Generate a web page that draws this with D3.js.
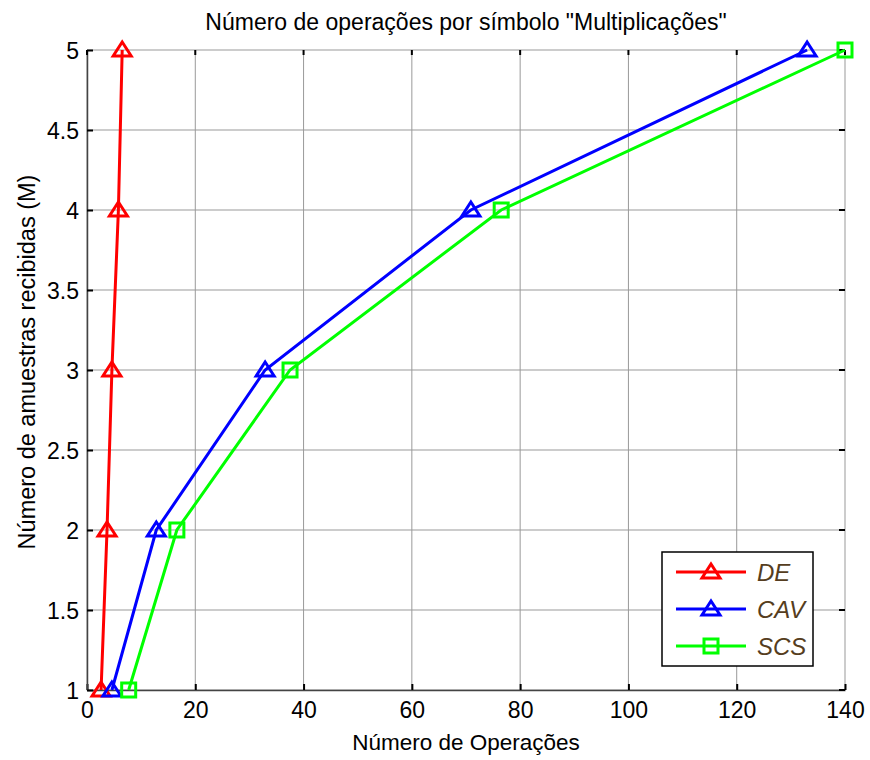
<!DOCTYPE html>
<html>
<head>
<meta charset="utf-8">
<script src="https://cdn.jsdelivr.net/npm/d3@7"></script>
<style>
  body { margin: 0; background: #fff; }
  text { font-family: "Liberation Sans", Arial, sans-serif; }
</style>
</head>
<body>
<div id="chart"></div>
<script>

/* Data */
/* ---- */

var yValues = [1, 2, 3, 4, 5];
var deValues = [2.6, 3.7, 4.6, 5.8, 6.5];
var cavValues = [4.6, 12.8, 32.9, 70.9, 133.0];
var scsValues = [7.7, 16.6, 37.5, 76.5, 140.0];

var seriesNames = ['DE', 'CAV', 'SCS'];
var xTicks = [0, 20, 40, 60, 80, 100, 120, 140];
var yTicks = [1, 1.5, 2, 2.5, 3, 3.5, 4, 4.5, 5];

/* Setup */
/* ----- */

var width = 870, height = 760;
var margin = { top: 50, right: 25, bottom: 70, left: 87 };
var w = 758, h = 640;

var svg = d3.select('#chart').append('svg')
    .attr('width', width)
    .attr('height', height);

var g = svg.append('g').attr('transform', 'translate(' + margin.left + ',' + margin.top + ')');

var x = d3.scaleLinear().domain([0, 140]).range([0, w]);
var y = d3.scaleLinear().domain([1, 5]).range([h, 0]);

// grid
g.append('g').selectAll('line')
  .data(xTicks)
  .enter().append('line')
    .attr('x1', function(d) { return x(d); }).attr('x2', function(d) { return x(d); })
    .attr('y1', 0).attr('y2', h)
    .attr('stroke', '#999').attr('stroke-width', 1);

g.append('g').selectAll('line')
  .data(yTicks)
  .enter().append('line')
    .attr('x1', 0).attr('x2', w)
    .attr('y1', function(d) { return y(d); }).attr('y2', function(d) { return y(d); })
    .attr('stroke', '#999').attr('stroke-width', 1);

// axes
var xAxis = g.append('g').attr('transform', 'translate(0,' + h + ')')
    .call(d3.axisBottom(x).tickValues(xTicks).tickSizeInner(-6).tickSizeOuter(0).tickPadding(12).tickFormat(d3.format('d')));
var yAxis = g.append('g')
    .call(d3.axisLeft(y).tickValues(yTicks).tickSizeInner(-6).tickSizeOuter(0).tickPadding(8).tickFormat(function(d) { return d; }));

// top and right ticks
g.append('g').selectAll('line')
  .data(xTicks)
  .enter().append('line')
    .attr('x1', function(d) { return x(d); }).attr('x2', function(d) { return x(d); })
    .attr('y1', 0).attr('y2', 5).attr('stroke', '#000').attr('stroke-width', 2);
g.append('g').selectAll('line')
  .data(yTicks)
  .enter().append('line')
    .attr('x1', w - 6).attr('x2', w)
    .attr('y1', function(d) { return y(d); }).attr('y2', function(d) { return y(d); })
    .attr('stroke', '#000').attr('stroke-width', 2);

[xAxis, yAxis].forEach(function(a) {
  a.attr('font-size', null).attr('font-family', null);
  a.select('.domain').attr('stroke', '#444').attr('stroke-width', 1.5);
  a.selectAll('.tick line').attr('stroke', '#000').attr('stroke-width', 2);
  a.selectAll('.tick text').style('font-size', '23px').attr('fill', '#000');
});
yAxis.selectAll('.tick text').attr('dy', '0.36em');

/* Series */
/* ------ */

var series = [
  { name: seriesNames[0], values: deValues, colour: '#ff0000', marker: 'tri' },
  { name: seriesNames[1], values: cavValues, colour: '#0000ff', marker: 'tri' },
  { name: seriesNames[2], values: scsValues, colour: '#00ff00', marker: 'sq' }
];

var line = d3.line()
    .x(function(d) { return x(d[0]); })
    .y(function(d) { return y(d[1]); });

function markerPath(type) {
  if (type === 'tri') return 'M0,-8L9,6L-9,6Z';
  return 'M-7,-7L7,-7L7,7L-7,7Z';
}

series.forEach(function(s) {
  var pts = s.values.map(function(v, i) { return [v, yValues[i]]; });
  var sg = g.append('g');
  sg.append('path')
    .datum(pts)
    .attr('d', line)
    .attr('fill', 'none')
    .attr('stroke', s.colour)
    .attr('stroke-width', 3);
  sg.selectAll('path.m')
    .data(pts)
    .enter().append('path')
      .attr('class', 'm')
      .attr('d', markerPath(s.marker))
      .attr('transform', function(d) { return 'translate(' + x(d[0]) + ',' + y(d[1]) + ')'; })
      .attr('fill', 'none')
      .attr('stroke', s.colour)
      .attr('stroke-width', 3);
});

/* Legend */
/* ------ */

var lg = svg.append('g').attr('transform', 'translate(662,552)');
lg.append('rect')
  .attr('width', 151).attr('height', 114)
  .attr('fill', '#fff').attr('stroke', '#000').attr('stroke-width', 1.5);

series.forEach(function(s, i) {
  var ly = 20 + i * 37;
  lg.append('line')
    .attr('x1', 14).attr('x2', 84).attr('y1', ly).attr('y2', ly)
    .attr('stroke', s.colour).attr('stroke-width', 3);
  lg.append('path')
    .attr('d', markerPath(s.marker))
    .attr('transform', 'translate(49,' + ly + ')')
    .attr('fill', 'none').attr('stroke', s.colour).attr('stroke-width', 3);
  lg.append('text')
    .attr('x', 95).attr('y', ly)
    .attr('dy', '0.36em')
    .attr('font-size', 24)
    .attr('font-style', 'italic')
    .attr('fill', '#553d20')
    .text(s.name);
});

/* Titles */
/* ------ */

svg.append('text')
  .attr('x', margin.left + w / 2).attr('y', 30)
  .attr('text-anchor', 'middle')
  .attr('font-size', 23)
  .text('Número de operações por símbolo "Multiplicações"');

svg.append('text')
  .attr('x', margin.left + w / 2).attr('y', 750)
  .attr('text-anchor', 'middle')
  .attr('font-size', 22.5)
  .text('Número de Operações');

svg.append('text')
  .attr('transform', 'translate(35,' + (margin.top + 312) + ') rotate(-90)')
  .attr('text-anchor', 'middle')
  .attr('font-size', 23.5)
  .text('Número de amuestras recibidas (M)');

</script>
</body>
</html>
